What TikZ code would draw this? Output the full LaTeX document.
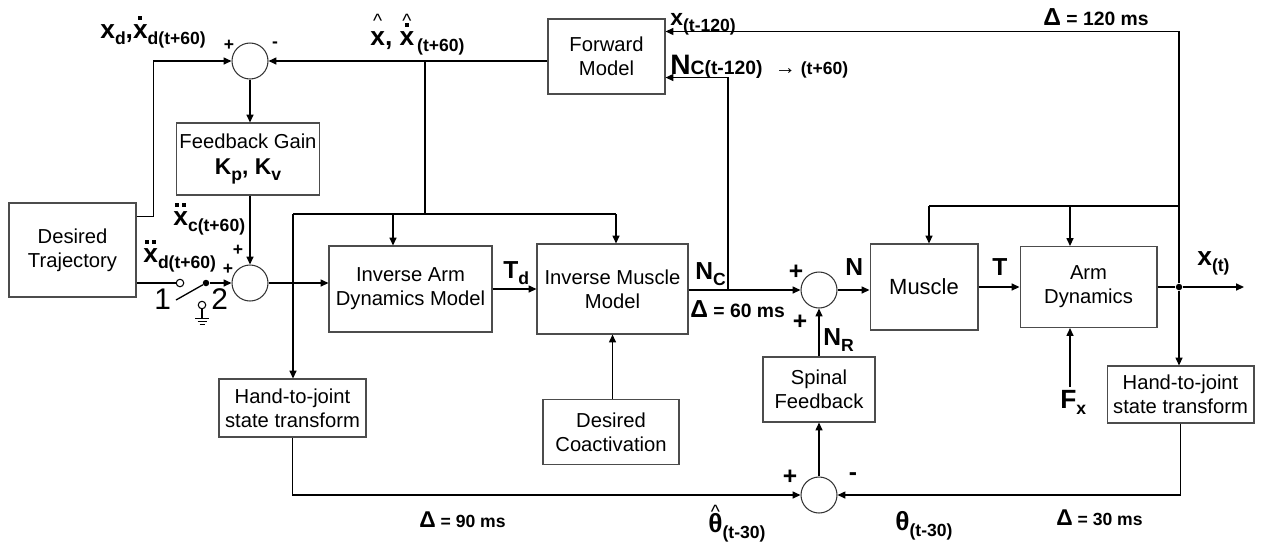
\documentclass[tikz,border=0pt]{standalone}
\usepackage{fontspec}
\setmainfont{Liberation Sans}
\usetikzlibrary{arrows.meta, positioning}

\newcommand{\sqdot}{\rule{2.3pt}{2.3pt}}
\newcommand{\twodot}{\sqdot\kern1.6pt\sqdot}
\newcommand{\hatmark}{\raisebox{-0.3em}[0.45em][0pt]{\fontsize{11}{11}\selectfont\mdseries\textasciicircum}}
\newcommand{\stk}[2]{\leavevmode\vbox{\offinterlineskip\halign{\hfil##\hfil\cr#1\cr\noalign{\kern2.5pt}#2\cr}}}
\newcommand{\stkh}[2][3pt]{\leavevmode\vbox{\offinterlineskip\halign{\hfil##\hfil\cr\hatmark\cr\noalign{\kern#1}#2\cr}}}
\newcommand{\sub}[1]{\raisebox{-3.5pt}{\fontsize{10}{10}\selectfont\bfseries #1}}

\tikzset{
  blk/.style={rectangle, draw=black!70, line width=0.6pt, inner sep=0pt,
    align=center, font=\fontsize{11.5}{13.6}\selectfont},
  sumj/.style={circle, draw=black!80, line width=0.6pt, minimum size=0.72cm, inner sep=0pt},
  arr/.style={-{Triangle[length=4.5pt,width=4pt]}, line width=0.75pt},
  wire/.style={line width=0.75pt},
  lbl/.style={font=\bfseries\fontsize{15}{15}\selectfont, inner sep=0pt, anchor=base west},
  sgn/.style={font=\bfseries\fontsize{14}{14}\selectfont, inner sep=0pt},
  smallsgn/.style={font=\bfseries\fontsize{10}{10}\selectfont, inner sep=0pt},
  dly/.style={font=\bfseries\fontsize{11}{11}\selectfont, inner sep=0pt, anchor=base west},
  dlysm/.style={font=\bfseries\fontsize{10}{10}\selectfont, inner sep=0pt, anchor=base west},
  num/.style={font=\fontsize{17}{17}\selectfont, inner sep=0pt, anchor=base west},
  contact/.style={circle, draw, line width=0.6pt, minimum size=0.15cm, inner sep=0pt, fill=white},
  tap/.style={circle, fill, minimum size=0.13cm, inner sep=0pt}
}

\begin{document}
\begin{tikzpicture}[x=0.02cm, y=-0.02cm]
  \useasboundingbox (0,0) rectangle (1266,549);

  % --- blocks ---
  \node[blk, minimum width=2.54cm, minimum height=1.88cm] (DT) at (72.5,250) {Desired\\Trajectory};
  \node[blk, minimum width=2.86cm, minimum height=1.44cm] (FG) at (248,159)
    {Feedback Gain\\[1pt]{\bfseries\fontsize{13}{14}\selectfont K\sub{p}, K\sub{v}}};
  \node[blk, minimum width=2.34cm, minimum height=1.5cm] (FM) at (606.5,56.5) {Forward\\Model};
  \node[blk, minimum width=3.26cm, minimum height=1.72cm] (IAD) at (410.5,289) {Inverse Arm\\Dynamics Model};
  \node[blk, minimum width=3.02cm, minimum height=1.8cm] (IMM) at (612.5,289) {Inverse Muscle\\Model};
  \node[blk, minimum width=2.72cm, minimum height=1.3cm] (DC) at (611,432) {Desired\\Coactivation};
  \node[blk, minimum width=2.94cm, minimum height=1.16cm] (HJa) at (292.5,408) {Hand-to-joint\\state transform};
  \node[blk, minimum width=2.24cm, minimum height=1.3cm] (SF) at (819,389.5) {Spinal\\Feedback};
  \node[blk, minimum width=2.16cm, minimum height=1.72cm, font=\fontsize{12.5}{14}\selectfont] (MU) at (924,287) {Muscle};
  \node[blk, minimum width=2.74cm, minimum height=1.62cm] (AD) at (1088.5,287) {Arm\\Dynamics};
  \node[blk, minimum width=2.94cm, minimum height=1.14cm] (HJb) at (1180.5,394.5) {Hand-to-joint\\state transform};

  % --- summing junctions ---
  \node[sumj] (sA) at (250,61) {};
  \node[sumj] (sB) at (250,283) {};
  \node[sumj] (sC) at (819,290) {};
  \node[sumj] (sD) at (819,495) {};

  % --- switch 1/2 ---
  \node[contact] (c1) at (180,283) {};
  \node[contact] (c2) at (202,305) {};
  \node[tap] (pv) at (206,283) {};
  \coordinate (blade) at (176,300);
  \draw[wire] (DT.east |- c1) -- (c1.west);
  \draw[wire] (pv) -- (blade);
  \draw[arr] (pv) -- (sB.west);
  \draw[wire, line width=0.6pt] (c2.south) -- ++(0,9) coordinate (gnd);
  \draw[wire, line width=0.6pt] (gnd) ++(-7,0) -- ++(14,0) ++(-11.5,3) -- ++(9,0) ++(-7,3) -- ++(5,0);

  % --- feedback loop on top ---
  \draw[arr] ([yshift=-0.28cm]DT.north east) -- ++(17,0) |- (sA.west);
  \draw[arr] (sA.south) -- (sA.south |- FG.north);
  \draw[arr] (FG.south -| sB) -- (sB.north);
  \draw[arr] (FM.west |- sA) -- (sA.east);
  \coordinate (tx) at (425,61);
  \coordinate (ty) at (425,214);
  \coordinate (tl) at (293,214);
  \coordinate (ta) at (393,214);
  \coordinate (tr) at (616,214);
  \draw[wire] (tx) -- (ty);
  \draw[wire] (tl) -- (tr);
  \draw[arr] (ta) -- (ta |- IAD.north);
  \draw[arr] (tr) -- (tr |- IMM.north);
  \draw[arr] (tl) -- (tl |- HJa.north);

  % --- forward path ---
  \draw[arr] (sB.east) -- (sB.east -| IAD.west);
  \draw[arr] (IAD.east) -- (IAD.east -| IMM.west);
  \draw[arr] (IMM.east |- sC) -- (sC.west);
  \coordinate (nc) at (728,290);
  \draw[arr] (nc) |- ([yshift=0.34cm]FM.south east);
  \draw[arr] (sC.east) -- (sC.east -| MU.west);
  \draw[arr] (MU.east |- AD.west) -- (AD.west);
  \node[tap] (jd) at (1179,287) {};
  \coordinate (xout) at (1244,287);
  \draw[wire] (AD.east) -- (jd);
  \draw[arr] (jd) -- (xout);
  \draw[arr] (jd) |- ([yshift=-0.26cm]FM.north east);
  \draw[arr] (jd) -- (jd |- HJb.north);
  \coordinate (tm) at (929,206);
  \coordinate (tn) at (1070,206);
  \coordinate (tk) at (1179,206);
  \draw[wire] (tm) -- (tk);
  \draw[arr] (tm) -- (tm |- MU.north);
  \draw[arr] (tn) -- (tn |- AD.north);
  \coordinate (fx) at (1070,387);
  \draw[arr] (fx) -- (fx |- AD.south);
  \draw[arr] (DC.north -| IMM) -- (IMM.south);

  % --- spinal loop ---
  \draw[arr] (HJa.south) |- (sD.west);
  \draw[arr] (HJb.south) |- (sD.east);
  \draw[arr] (sD.north) -- (sD.north |- SF.south);
  \draw[arr] (SF.north -| sC) -- (sC.south);

  % --- labels ---
  \node[lbl] (lxd) at (100,38) {x\sub{d},\stk{\sqdot}{x}\sub{d(t+60)}};
  \node[lbl] (lxh) at (370,45) {\stkh[6.5pt]{x}, \stkh[1.7pt]{\stk{\sqdot}{x}}\sub{\,(t+60)}};
  \node[lbl, font=\bfseries\fontsize{13}{13}\selectfont] (lxp) at (670,25) {x\sub{(t-120)}};
  \node[lbl, font=\bfseries\fontsize{16}{16}\selectfont] (lnc) at (670,74)
    {N\raisebox{-0.5pt}{\fontsize{11}{11}\selectfont C(t-120)\hspace{7pt}{\fontsize{10}{10}\selectfont{\fontsize{12}{12}\selectfont →} (t+60)}}};
  \node[dly] (dA) at (1043,25) {{\fontsize{14}{14}\selectfont Δ} = 120 ms};
  \node[lbl] (lxc) at (173,225) {\stk{\twodot}{x}\sub{c(t+60)}};
  \node[lbl] (lxdd) at (143,262) {\stk{\twodot}{x}\sub{d(t+60)}};
  \node[num] (n1) at (154,309) {1};
  \node[num] (n2) at (211,309) {2};
  \node[lbl, font=\bfseries\fontsize{14}{14}\selectfont] (ltd) at (503,278) {T\sub{d}};
  \node[lbl, font=\bfseries\fontsize{14}{14}\selectfont] (lnC) at (695,279) {N\sub{C}};
  \node[dly] (dB) at (690,317) {{\fontsize{14}{14}\selectfont Δ} = 60 ms};
  \node[lbl, font=\bfseries\fontsize{14}{14}\selectfont] (lN) at (845,275) {N};
  \node[lbl, font=\bfseries\fontsize{14}{14}\selectfont] (lNR) at (823,345) {N\sub{R}};
  \node[lbl, font=\bfseries\fontsize{14}{14}\selectfont] (lT) at (992,275) {T};
  \node[lbl] (lxt) at (1197,265) {x\sub{(t)}};
  \node[lbl, font=\bfseries\fontsize{15}{15}\selectfont] (lF) at (1060,408) {F\sub{x}};
  \node[dlysm] (dC) at (1056,525) {{\fontsize{13}{13}\selectfont Δ} = 30 ms};
  \node[dlysm] (dD) at (419,527) {{\fontsize{13}{13}\selectfont Δ} = 90 ms};
  \node[lbl] (lth) at (708,532) {\stkh[1.5pt]{θ}\sub{(t-30)}};
  \node[lbl] (lt) at (895,530) {θ\sub{(t-30)}};

  % --- signs ---
  \node[smallsgn] (pA) at (229,45) {+};
  \node[smallsgn] (mA) at (275,45) {-};
  \node[smallsgn] (pB) at (238,250) {+};
  \node[smallsgn] (pC) at (228,269) {+};
  \node[sgn] (pD) at (796,272) {+};
  \node[sgn] (pE) at (800,322) {+};
  \node[sgn] (pF) at (790,477) {+};
  \node[sgn] (mB) at (853,477) {-};
\end{tikzpicture}
\end{document}
